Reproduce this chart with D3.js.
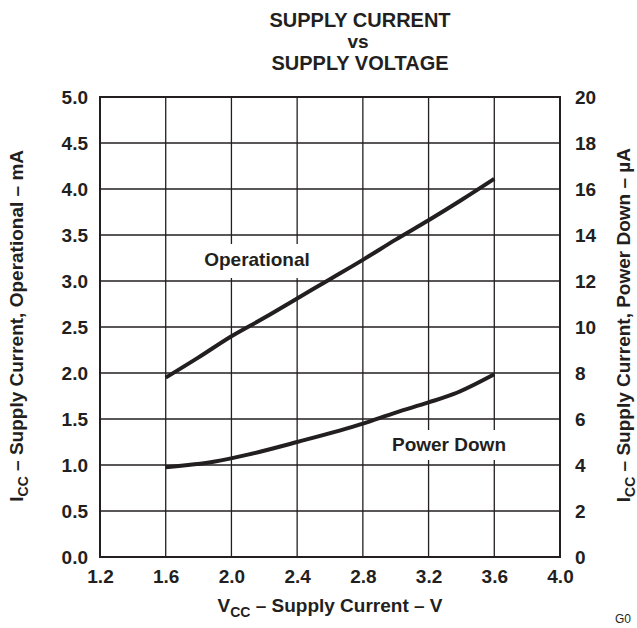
<!DOCTYPE html>
<html><head><meta charset="utf-8">
<script src="https://cdn.jsdelivr.net/npm/d3@7"></script>
<style>body{margin:0;background:#fff}text{font-family:"Liberation Sans",Arial,sans-serif;fill:#231f20}</style>
</head><body><svg id="c" width="637" height="628"></svg>
<script>
const xTicks = [1.2, 1.6, 2.0, 2.4, 2.8, 3.2, 3.6, 4.0];
const yLeftTicks = [0, 0.5, 1.0, 1.5, 2.0, 2.5, 3.0, 3.5, 4.0, 4.5, 5.0];
const yRightTicks = [0, 2, 4, 6, 8, 10, 12, 14, 16, 18, 20];
const vcc = [1.6, 1.8, 2.0, 2.2, 2.4, 2.6, 2.8, 3.0, 3.2, 3.4, 3.6];
const operational = [1.95, 2.17, 2.40, 2.60, 2.81, 3.02, 3.23, 3.45, 3.66, 3.88, 4.11];
const vccPD = [1.6, 1.9, 2.1, 2.4, 2.8, 3.0, 3.2, 3.35, 3.6];
const powerDown = [3.9, 4.15, 4.45, 5.0, 5.8, 6.28, 6.72, 7.08, 7.95]; // µA

const svg = d3.select("#c");
const L = 100, R = 560, T = 97, B = 557;
const ink = "#231f20";
const x = d3.scaleLinear().domain([1.2, 4.0]).range([L, R]);
const yL = d3.scaleLinear().domain([0, 5]).range([B, T]);
const yR = d3.scaleLinear().domain([0, 20]).range([B, T]);

// grid
const g = svg.append("g");
g.selectAll("line.v").data(xTicks.slice(1, -1)).enter().append("line")
  .attr("x1", d => x(d)).attr("x2", d => x(d)).attr("y1", T).attr("y2", B)
  .attr("stroke", ink).attr("stroke-width", 1.3);
g.selectAll("line.h").data(yLeftTicks.slice(1, -1)).enter().append("line")
  .attr("y1", d => yL(d)).attr("y2", d => yL(d)).attr("x1", L).attr("x2", R)
  .attr("stroke", ink).attr("stroke-width", 1.3);

// label backgrounds
svg.append("rect").attr("x", 200).attr("y", 244).attr("width", 114).attr("height", 34).attr("fill", "#fff");
svg.append("rect").attr("x", 386).attr("y", 430).attr("width", 126).attr("height", 30).attr("fill", "#fff");

// border
svg.append("rect").attr("x", L).attr("y", T).attr("width", R - L).attr("height", B - T)
  .attr("fill", "none").attr("stroke", ink).attr("stroke-width", 2);

// curves
const lineOp = d3.line().x((d, i) => x(vcc[i])).y(d => yL(d)).curve(d3.curveMonotoneX);
svg.append("path").attr("d", lineOp(operational)).attr("fill", "none")
  .attr("stroke", ink).attr("stroke-width", 4);
const linePD = d3.line().x((d, i) => x(vccPD[i])).y(d => yR(d)).curve(d3.curveMonotoneX);
svg.append("path").attr("d", linePD(powerDown)).attr("fill", "none")
  .attr("stroke", ink).attr("stroke-width", 4);

// axes (labels only)
const tickFont = "bold 19px 'Liberation Sans', Arial, sans-serif";
const ax = svg.append("g").attr("transform", `translate(0,${B})`)
  .call(d3.axisBottom(x).tickValues(xTicks).tickFormat(d3.format(".1f")).tickSize(0).tickPadding(13));
const ayl = svg.append("g").attr("transform", `translate(${L},0)`)
  .call(d3.axisLeft(yL).tickValues(yLeftTicks).tickFormat(d3.format(".1f")).tickSize(0).tickPadding(12));
const ayr = svg.append("g").attr("transform", `translate(${R},0)`)
  .call(d3.axisRight(yR).tickValues(yRightTicks).tickFormat(d3.format("d")).tickSize(0).tickPadding(15));
[ax, ayl, ayr].forEach(a => {
  a.select(".domain").remove();
  a.selectAll("text").style("font", tickFont).attr("fill", ink);
});

// titles
const title = svg.append("text").attr("text-anchor", "middle").style("font", "bold 20px 'Liberation Sans', Arial, sans-serif");
title.append("tspan").attr("x", 360).attr("y", 27).text("SUPPLY CURRENT");
title.append("tspan").attr("x", 358).attr("y", 48).style("font-size", "19px").text("vs");
title.append("tspan").attr("x", 360).attr("y", 70).text("SUPPLY VOLTAGE");

const axFont = "bold 19px 'Liberation Sans', Arial, sans-serif";
const xl = svg.append("text").attr("x", 330).attr("y", 612).attr("text-anchor", "middle").style("font", axFont);
xl.append("tspan").text("V");
xl.append("tspan").attr("dy", 5).style("font-size", "14px").text("CC");
xl.append("tspan").attr("dy", -5).text(" – Supply Current – V");

const yl = svg.append("text").attr("transform", "translate(23,150) rotate(-90)").attr("text-anchor", "end").style("font", axFont);
yl.append("tspan").text("I");
yl.append("tspan").attr("dy", 5).style("font-size", "14px").text("CC");
yl.append("tspan").attr("dy", -5).text(" – Supply Current, Operational – mA");

const yr = svg.append("text").attr("transform", "translate(630,148) rotate(-90)").attr("text-anchor", "end").style("font", axFont);
yr.append("tspan").text("I");
yr.append("tspan").attr("dy", 5).style("font-size", "14px").text("CC");
yr.append("tspan").attr("dy", -5).text(" – Supply Current, Power Down – µA");

svg.append("text").attr("x", 257).attr("y", 266).attr("text-anchor", "middle").style("font", axFont).text("Operational");
svg.append("text").attr("x", 449).attr("y", 451).attr("text-anchor", "middle").style("font", axFont).text("Power Down");
svg.append("text").attr("x", 615).attr("y", 623).style("font", "12px 'Liberation Sans', Arial, sans-serif").text("G0");
</script></body></html>
